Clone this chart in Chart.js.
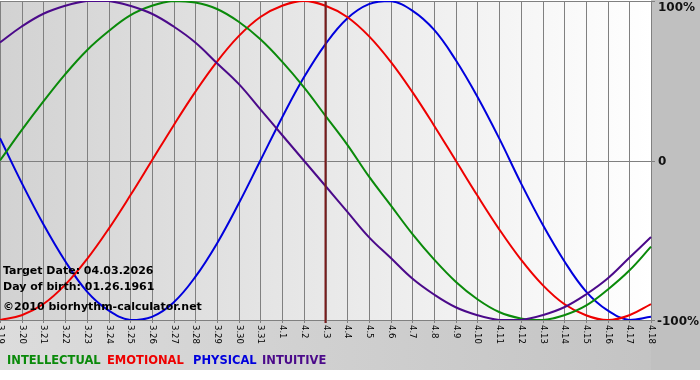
<!DOCTYPE html>
<html>
<head>
<meta charset="utf-8">
<script src="https://cdn.jsdelivr.net/npm/chart.js@4"></script>
<style>
  html, body { margin: 0; padding: 0; background: #fff; }
  #wrap { width: 700px; height: 380px; }
</style>
</head>
<body>
<div id="wrap"><canvas id="bioChart" width="700" height="380"></canvas></div>
<script>
// days shown, 3.19 .. 4.18
const days = ['3.19','3.20','3.21','3.22','3.23','3.24','3.25','3.26','3.27','3.28','3.29','3.30','3.31',
  '4.1','4.2','4.3','4.4','4.5','4.6','4.7','4.8','4.9','4.10','4.11','4.12','4.13','4.14','4.15','4.16','4.17','4.18'];

// cycle values in percent
const intellectual = [0,19,37,54,69,81,91,97,100,99,95,87,76,62,46,28,10,-10,-28,-46,-62,-76,-87,-95,-99,-100,-97,-91,-81,-69,-54];
const emotional = [-100,-97,-90,-78,-62,-43,-22,0,22,43,62,78,90,97,100,97,90,78,62,43,22,0,-22,-43,-62,-78,-90,-97,-100,-97,-90];
const physical = [14,-14,-40,-63,-82,-94,-100,-98,-89,-73,-52,-27,0,27,52,73,89,98,100,94,82,63,40,14,-14,-40,-63,-82,-94,-100,-98];
const intuitive = [74,84,92,97,100,100,97,92,84,74,61,48,32,16,0,-16,-32,-48,-61,-74,-84,-92,-97,-100,-100,-97,-92,-84,-74,-61,-48];

const yTicks = [100, 0, -100];
const yTickLabels = ['100%', '0', '-100%'];
const targetDay = '4.3';
const infoLines = ['Target Date: 04.03.2026', 'Day of birth: 01.26.1961', '\u00a92010 biorhythm-calculator.net'];
const legendItems = [
  { text: 'INTELLECTUAL', color: '#0a8a0a', x: 7 },
  { text: 'EMOTIONAL', color: '#ee0000', x: 107 },
  { text: 'PHYSICAL', color: '#0000dd', x: 193 },
  { text: 'INTUITIVE', color: '#4b0a8a', x: 262 }
];

const bold11 = 'bold 11px "DejaVu Sans", Verdana, sans-serif';

// backgrounds, grid, labels and the target day marker
const bioDecor = {
  id: 'bioDecor',
  beforeDraw(chart) {
    const ctx = chart.ctx;
    const a = chart.chartArea;
    const x = chart.scales.x, y = chart.scales.y;
    ctx.save();
    ctx.fillStyle = '#ffffff';
    ctx.fillRect(0, 0, chart.width, chart.height);

    // bottom strip
    let g = ctx.createLinearGradient(0, 0, chart.width, 0);
    g.addColorStop(0, '#dcdcdc');
    g.addColorStop(1, '#c2c2c2');
    ctx.fillStyle = g;
    ctx.fillRect(0, a.bottom, chart.width, 370 - a.bottom);

    // right panel
    ctx.fillStyle = '#c0c0c0';
    ctx.fillRect(a.right, 0, chart.width - a.right, 370);

    // plot area
    g = ctx.createLinearGradient(a.left, 0, a.right, 0);
    g.addColorStop(0, '#d2d2d2');
    g.addColorStop(1, '#ffffff');
    ctx.fillStyle = g;
    ctx.fillRect(a.left, a.top, a.right - a.left, a.bottom - a.top);

    // vertical grid + tick labels
    ctx.strokeStyle = '#808080';
    ctx.lineWidth = 1;
    ctx.fillStyle = '#000';
    ctx.font = '8.5px "DejaVu Sans", Tahoma, sans-serif';
    days.forEach((d, i) => {
      const px = Math.round(x.getPixelForValue(i)) + 0.5;
      ctx.beginPath();
      ctx.moveTo(px, a.top);
      ctx.lineTo(px, a.bottom + 3);
      ctx.stroke();
      ctx.save();
      ctx.translate(px, a.bottom + 5);
      ctx.rotate(Math.PI / 2);
      ctx.textAlign = 'left';
      ctx.textBaseline = 'middle';
      ctx.fillText(d, 0, 0);
      ctx.restore();
    });

    // horizontal lines
    const labelY = [8, 162, 322];
    yTicks.forEach((v, i) => {
      const py = Math.round(y.getPixelForValue(v)) + 0.5;
      ctx.beginPath();
      ctx.moveTo(a.left, py);
      ctx.lineTo(a.right + 4, py);
      ctx.stroke();
      ctx.font = 'bold 12px "DejaVu Sans", Verdana, sans-serif';
      ctx.textBaseline = 'middle';
      ctx.textAlign = 'left';
      ctx.fillStyle = '#111';
      ctx.fillText(yTickLabels[i], v < 0 ? 657 : 658, labelY[i]);
    });
    ctx.restore();
  },
  afterDatasetsDraw(chart) {
    const ctx = chart.ctx;
    const a = chart.chartArea;
    const x = chart.scales.x;
    ctx.save();
    // target day marker
    const tx = x.getPixelForValue(days.indexOf(targetDay));
    ctx.strokeStyle = '#7a1c1c';
    ctx.lineWidth = 2;
    ctx.beginPath();
    ctx.moveTo(tx, a.top);
    ctx.lineTo(tx, a.bottom + 3);
    ctx.stroke();

    // info text
    ctx.font = bold11;
    ctx.fillStyle = '#000';
    ctx.textBaseline = 'middle';
    ctx.textAlign = 'left';
    ctx.fillText(infoLines[0], 3, 271);
    ctx.fillText(infoLines[1], 3, 287);
    ctx.fillText(infoLines[2], 3, 307);

    // legend
    ctx.font = 'bold 11.5px "DejaVu Sans", Verdana, sans-serif';
    legendItems.forEach(it => {
      ctx.fillStyle = it.color;
      ctx.fillText(it.text, it.x, 361);
    });
    ctx.restore();
  }
};

const mkSet = (label, data, color) => ({
  label, data,
  borderColor: color,
  borderWidth: 2,
  pointRadius: 0,
  tension: 0.4,
  fill: false
});

new Chart(document.getElementById('bioChart'), {
  type: 'line',
  data: {
    labels: days,
    datasets: [
      mkSet('INTUITIVE', intuitive, '#4b0a8a'),
      mkSet('INTELLECTUAL', intellectual, '#0a8a0a'),
      mkSet('EMOTIONAL', emotional, '#ee0000'),
      mkSet('PHYSICAL', physical, '#0000dd')
    ]
  },
  options: {
    responsive: false,
    animation: false,
    layout: { padding: { left: 0, right: 49, top: 1, bottom: 60 } },
    plugins: { legend: { display: false }, tooltip: { enabled: false } },
    scales: {
      x: { display: false, offset: false },
      y: { display: false, min: -100, max: 100 }
    }
  },
  plugins: [bioDecor]
});
</script>
</body>
</html>
